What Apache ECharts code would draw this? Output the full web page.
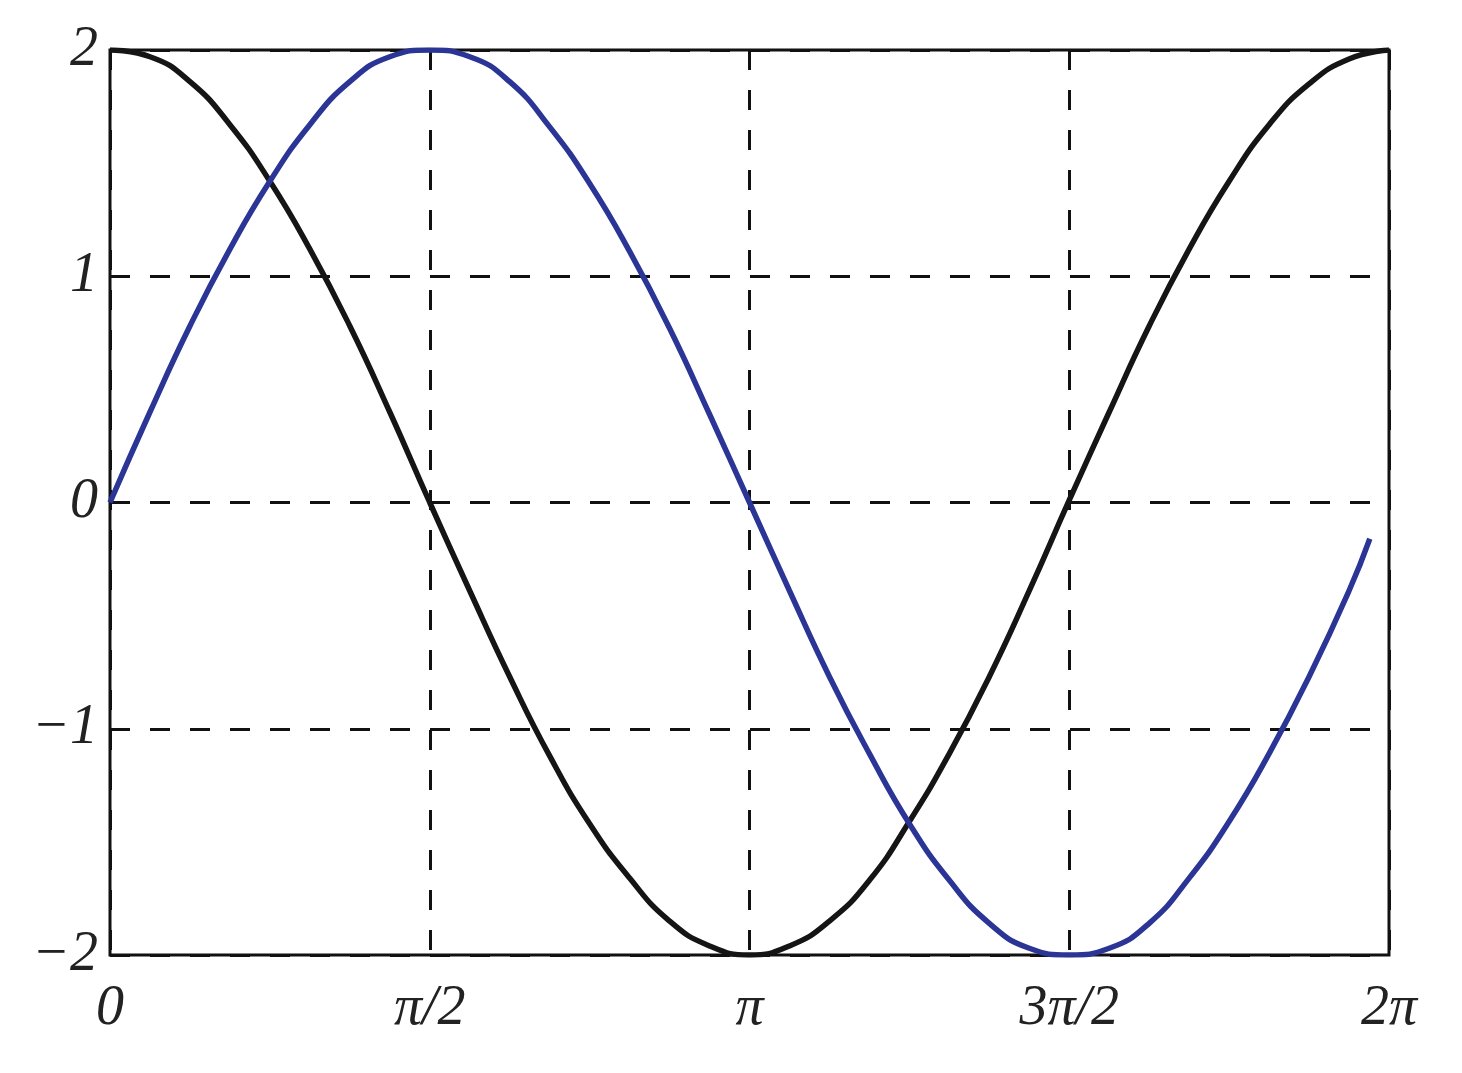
<!DOCTYPE html>
<html>
<head>
<meta charset="utf-8">
<style>
  html, body { margin: 0; padding: 0; background: #fff; }
  #chart { width: 1462px; height: 1073px; }
</style>
<script src="https://cdn.jsdelivr.net/npm/echarts@6/dist/echarts.min.js"></script>
</head>
<body>
<div id="chart"></div>
<script>
// x en quarts de période (1 = π/2), pas de π/16
const xTickLabels = ["0", "π/2", "π", "3π/2", "2π"];
const yTickLabels = { "2": "2", "1": "1", "0": "0", "-1": "\u22121", "-2": "\u22122" };

const xNoir = [0, 0.125, 0.25, 0.375, 0.5, 0.625, 0.75, 0.875, 1, 1.125, 1.25, 1.375, 1.5, 1.625, 1.75, 1.875,
  2, 2.125, 2.25, 2.375, 2.5, 2.625, 2.75, 2.875, 3, 3.125, 3.25, 3.375, 3.5, 3.625, 3.75, 3.875, 4];
const yNoir = [2.00, 1.97, 1.86, 1.67, 1.42, 1.12, 0.78, 0.40, 0.00, -0.39, -0.77, -1.12, -1.42, -1.66, -1.85, -1.96,
  -2.00, -1.96, -1.85, -1.67, -1.41, -1.11, -0.77, -0.39, 0.01, 0.40, 0.78, 1.12, 1.42, 1.67, 1.85, 1.96, 2.00];

const xBleu = [0, 0.125, 0.25, 0.375, 0.5, 0.625, 0.75, 0.875, 1, 1.125, 1.25, 1.375, 1.5, 1.625, 1.75, 1.875,
  2, 2.125, 2.25, 2.375, 2.5, 2.625, 2.75, 2.875, 3, 3.125, 3.25, 3.375, 3.5, 3.625, 3.75, 3.875, 3.94];
const yBleu = [0.00, 0.40, 0.78, 1.12, 1.42, 1.67, 1.86, 1.97, 2.00, 1.97, 1.86, 1.66, 1.41, 1.11, 0.77, 0.39,
  0.00, -0.39, -0.77, -1.11, -1.42, -1.67, -1.86, -1.97, -2.00, -1.97, -1.86, -1.66, -1.41, -1.11, -0.77, -0.39, -0.16];

function paires(xs, ys) {
    return xs.map((x, i) => [x, ys[i]]);
}

const police = { fontFamily: "Liberation Serif", fontStyle: "italic", fontSize: 56, color: "#222" };
const tirets = { show: true, lineStyle: { color: "#111", width: 3, type: [20, 20] } };

const chart = echarts.init(document.getElementById("chart"));
const option = {
    backgroundColor: "#fff",
    animation: false,
    grid: {
        left: 110, top: 50, right: 73, bottom: 118,
        show: true, borderColor: "#111", borderWidth: 3, backgroundColor: "transparent"
    },
    xAxis: {
        type: "value", min: 0, max: 4, interval: 1,
        axisLine: { show: false },
        axisTick: { show: true, inside: true, length: 10, lineStyle: { color: "#111", width: 3 } },
        splitLine: tirets,
        axisLabel: Object.assign({ margin: 26, formatter: v => xTickLabels[v] }, police)
    },
    yAxis: {
        type: "value", min: -2, max: 2, interval: 1,
        axisLine: { show: false },
        axisTick: { show: true, inside: true, length: 10, lineStyle: { color: "#111", width: 3 } },
        splitLine: tirets,
        axisLabel: Object.assign({ margin: 12, formatter: v => yTickLabels[String(v)] }, police)
    },
    series: [
        {
            type: "line", data: paires(xNoir, yNoir), smooth: true, showSymbol: false,
            lineStyle: { color: "#151515", width: 5.5 }, z: 3
        },
        {
            type: "line", data: paires(xBleu, yBleu), smooth: true, showSymbol: false,
            lineStyle: { color: "#2b3596", width: 5.5 }, z: 4
        }
    ]
};
chart.setOption(option);
</script>
</body>
</html>
